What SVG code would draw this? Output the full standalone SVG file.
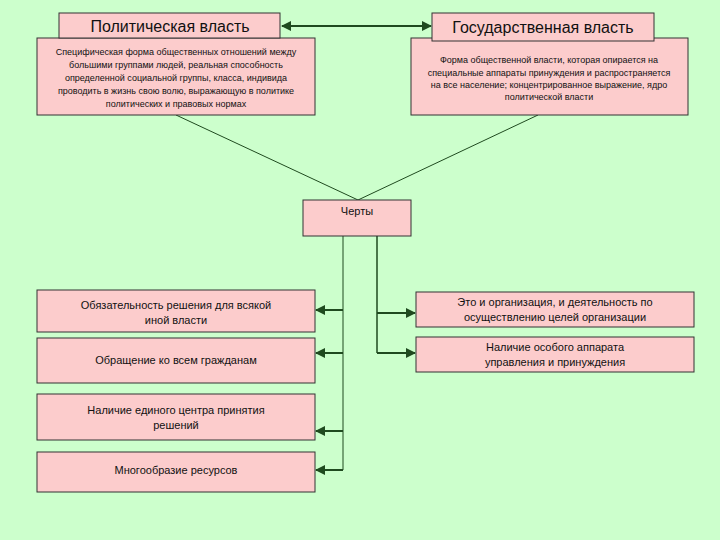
<svg xmlns="http://www.w3.org/2000/svg" width="720" height="540" viewBox="0 0 720 540">
<defs>
<style>
.b{fill:#fccccc;stroke:#333;stroke-width:1}
text{font-family:"Liberation Sans",Arial,sans-serif;fill:#111;text-anchor:middle}
.t{font-size:16px}.s{font-size:9px}.m{font-size:11px}
.c{stroke:#1f4a1f;fill:none}
</style>
<marker id="a" viewBox="0 0 10 10" refX="9" refY="5" markerWidth="5" markerHeight="5" orient="auto-start-reverse"><path d="M0,0L10,5L0,10z" fill="#1f4a1f"/></marker>
</defs>
<rect width="720" height="540" fill="#ccffcc"/>
<g id="conn">
<line class="c" x1="282" y1="26" x2="431" y2="26" stroke-width="2" marker-start="url(#a)" marker-end="url(#a)"/>
<line class="c" x1="176" y1="115" x2="358" y2="200"/>
<line class="c" x1="538" y1="115" x2="358" y2="200"/>
<path class="c" d="M343,236V470"/>
<path class="c" d="M377,236V353" stroke-width="1.5"/>
<line class="c" x1="343" y1="310" x2="316" y2="310" stroke-width="2" marker-end="url(#a)"/>
<line class="c" x1="343" y1="353" x2="316" y2="353" stroke-width="2" marker-end="url(#a)"/>
<line class="c" x1="343" y1="431" x2="316" y2="431" stroke-width="2" marker-end="url(#a)"/>
<line class="c" x1="343" y1="470" x2="316" y2="470" stroke-width="2" marker-end="url(#a)"/>
<line class="c" x1="377" y1="313" x2="415" y2="313" stroke-width="2" marker-end="url(#a)"/>
<line class="c" x1="377" y1="353" x2="415" y2="353" stroke-width="2" marker-end="url(#a)"/>
</g>
<g id="pol-desc"><rect class="b" x="37" y="38" width="278" height="77"/>
<text class="s" x="176" y="55">Специфическая форма общественных отношений между</text>
<text class="s" x="176" y="68">большими группами людей, реальная способность</text>
<text class="s" x="176" y="81">определенной социальной группы, класса, индивида</text>
<text class="s" x="176" y="94">проводить в жизнь свою волю, выражающую в политике</text>
<text class="s" x="176" y="107">политических и правовых нормах</text></g>
<g id="pol"><rect class="b" x="59" y="13" width="221" height="25"/><text class="t" x="170" y="32">Политическая власть</text></g>
<g id="gos-desc"><rect class="b" x="411" y="38" width="277" height="77"/>
<text class="s" x="549" y="63">Форма общественной власти, которая опирается на</text>
<text class="s" x="549" y="76">специальные аппараты принуждения и распространяется</text>
<text class="s" x="549" y="88">на все население; концентрированное выражение, ядро</text>
<text class="s" x="549" y="100">политической власти</text></g>
<g id="gos"><rect class="b" x="432" y="13" width="222" height="28"/><text class="t" x="543" y="33">Государственная власть</text></g>
<g id="cherty"><rect class="b" x="303" y="200" width="108" height="36"/><text class="m" x="357" y="215">Черты</text></g>
<g id="l1"><rect class="b" x="37" y="290" width="278" height="42"/><text class="m" x="176" y="309">Обязательность решения для всякой</text><text class="m" x="176" y="324">иной власти</text></g>
<g id="l2"><rect class="b" x="37" y="338" width="278" height="45"/><text class="m" x="176" y="364">Обращение ко всем гражданам</text></g>
<g id="l3"><rect class="b" x="37" y="394" width="278" height="46"/><text class="m" x="176" y="414">Наличие единого центра принятия</text><text class="m" x="176" y="429">решений</text></g>
<g id="l4"><rect class="b" x="37" y="452" width="278" height="40"/><text class="m" x="176" y="474">Многообразие ресурсов</text></g>
<g id="r1"><rect class="b" x="416" y="292" width="278" height="35"/><text class="m" x="555" y="306">Это и организация, и деятельность по</text><text class="m" x="555" y="321">осуществлению целей организации</text></g>
<g id="r2"><rect class="b" x="416" y="337" width="278" height="35"/><text class="m" x="555" y="351">Наличие особого аппарата</text><text class="m" x="555" y="366">управления и принуждения</text></g>
</svg>
